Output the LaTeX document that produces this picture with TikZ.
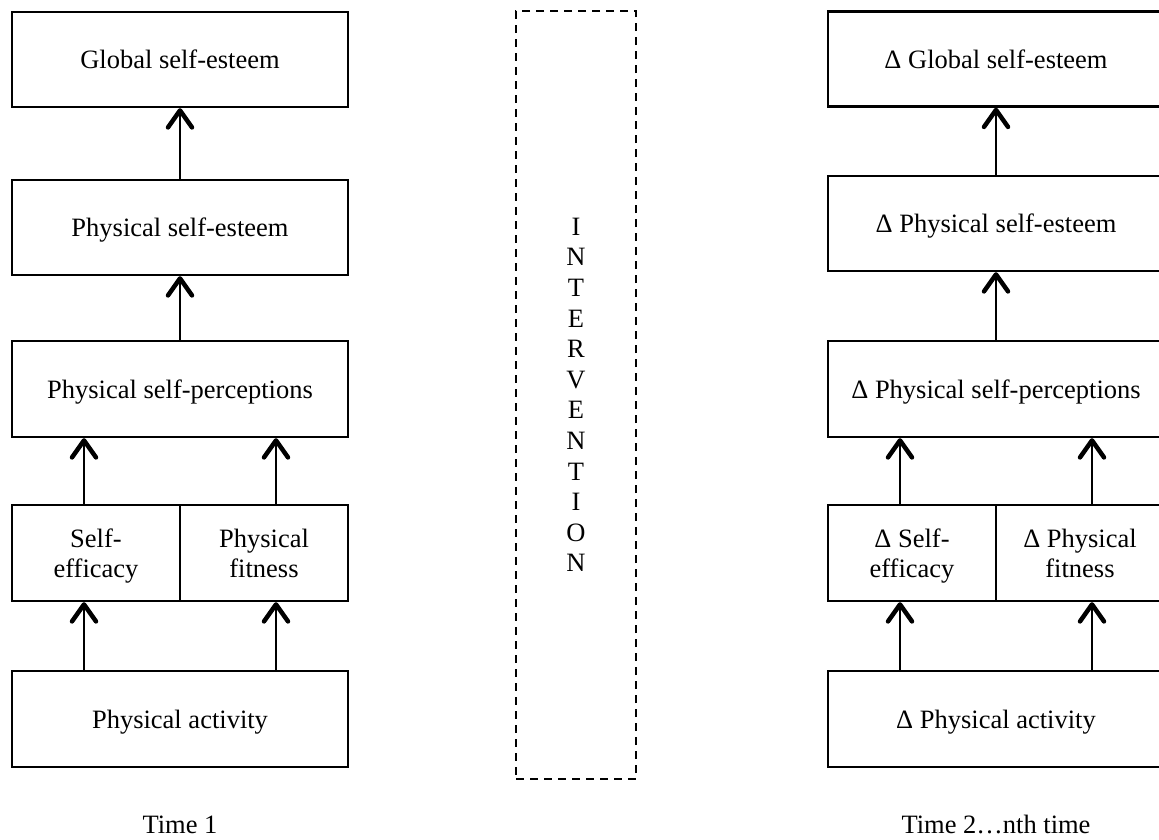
\documentclass[tikz,border=0pt]{standalone}
\usepackage{fontspec}
\setmainfont{Liberation Serif}
\usetikzlibrary{arrows.meta}
\newcommand{\topstrut}{\rule{0pt}{24.6pt}}
\newcommand{\botstrut}{\rule[-6pt]{0pt}{6pt}}
\newcommand{\onestrut}{\rule[-6pt]{0pt}{30pt}}
\tikzset{
  box/.style={draw, line width=2.3pt, inner sep=0pt, align=center,
    font=\fontsize{26.5}{30.6}\selectfont},
  up/.style={line width=2.8pt, -{Straight Barb[length=17pt,width=24pt,line width=4.5pt,round]}},
  lbl/.style={anchor=base, inner sep=0pt, font=\fontsize{26.5}{30.6}\selectfont},
  dashbox/.style={draw, line width=2.3pt, dash pattern=on 8pt off 6pt, inner sep=0pt,
    align=center, font=\fontsize{26.5}{30.6}\selectfont}
}
\begin{document}
\begin{tikzpicture}[x=1pt,y=-1pt]
\useasboundingbox (0,0) rectangle (1159,839);
\clip (0,0) rectangle (1159,839);
% left column (Time 1)
\node[box, minimum width=336pt, minimum height=95pt] (gse) at (180,59.5) {\onestrut Global self-esteem};
\node[box, minimum width=336pt, minimum height=95pt] (pse) at (180,227.5) {\onestrut Physical self-esteem};
\node[box, minimum width=336pt, minimum height=96pt] (psp) at (180,389) {\onestrut Physical self-perceptions};
\node[box, minimum width=168pt, minimum height=96pt] (se) at (96,553) {\topstrut Self-\\efficacy\botstrut};
\node[box, minimum width=168pt, minimum height=96pt] (pf) at (264,553) {\topstrut Physical\\fitness\botstrut};
\node[box, minimum width=336pt, minimum height=96pt] (pa) at (180,719) {\onestrut Physical activity};
\node[lbl] (t1) at (180,833) {Time 1};
% arrows left
\draw[up] (pse.north) -- (gse.south);
\draw[up] (psp.north) -- (pse.south);
\draw[up] ([xshift=-12pt]se.north) -- ([xshift=-12pt]se.north |- psp.south);
\draw[up] ([xshift=12pt]pf.north) -- ([xshift=12pt]pf.north |- psp.south);
\draw[up] ([xshift=-12pt]se.north |- pa.north) -- ([xshift=-12pt]se.south);
\draw[up] ([xshift=12pt]pf.north |- pa.north) -- ([xshift=12pt]pf.south);
% intervention
\node[dashbox, minimum width=120pt, minimum height=768pt] (iv) at (576,395)
  {I\\N\\T\\E\\R\\V\\E\\N\\T\\I\\O\\N};
% right column (Time 2...nth time)
\node[box, minimum width=336pt, minimum height=95pt] (dgse) at (996,59) {\onestrut Δ Global self-esteem};
\node[box, minimum width=336pt, minimum height=95pt] (dpse) at (996,223.5) {\onestrut Δ Physical self-esteem};
\node[box, minimum width=336pt, minimum height=96pt] (dpsp) at (996,389) {\onestrut Δ Physical self-perceptions};
\node[box, minimum width=168pt, minimum height=96pt] (dse) at (912,553) {\topstrut Δ Self-\\efficacy\botstrut};
\node[box, minimum width=168pt, minimum height=96pt] (dpf) at (1080,553) {\topstrut Δ Physical\\fitness\botstrut};
\node[box, minimum width=336pt, minimum height=96pt] (dpa) at (996,719) {\onestrut Δ Physical activity};
\node[lbl] (t2) at (996,833) {Time 2…nth time};
% arrows right
\draw[up] (dpse.north) -- (dgse.south);
\draw[up] (dpsp.north) -- (dpse.south);
\draw[up] ([xshift=-12pt]dse.north) -- ([xshift=-12pt]dse.north |- dpsp.south);
\draw[up] ([xshift=12pt]dpf.north) -- ([xshift=12pt]dpf.north |- dpsp.south);
\draw[up] ([xshift=-12pt]dse.north |- dpa.north) -- ([xshift=-12pt]dse.south);
\draw[up] ([xshift=12pt]dpf.north |- dpa.north) -- ([xshift=12pt]dpf.south);
\end{tikzpicture}
\end{document}
